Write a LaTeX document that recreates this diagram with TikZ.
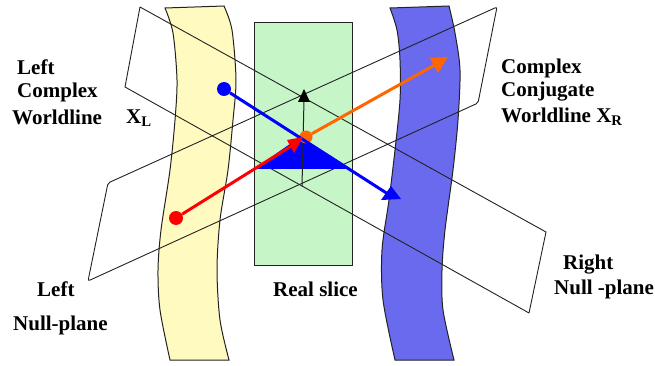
\documentclass[tikz,border=0pt]{standalone}
\usepackage{fontspec}
\setmainfont{Liberation Serif}
\usetikzlibrary{arrows.meta,positioning,calc}
\definecolor{Line}{HTML}{222222}
\definecolor{Pale}{HTML}{FFFBC0}
\definecolor{Slice}{HTML}{C6F5C8}
\definecolor{Conj}{HTML}{6A6AEE}
\definecolor{Orng}{HTML}{FF6600}
\begin{document}
\begin{tikzpicture}[
 x=1pt,y=-1pt,
 w/.style={draw=Line,line width=1pt},
 p/.style={draw=Line,line width=.9pt,line join=round},
 t/.style={anchor=west,inner sep=0pt,font=\fontsize{21}{21}\selectfont\bfseries},
 d/.style={circle,inner sep=0pt,minimum size=14pt,fill=#1},
 a/.style={line width=3pt,draw=#1}
]
\useasboundingbox (0,0) rectangle (655,366);
% worldlines and slice
\draw[w,fill=Pale] plot[smooth,tension=.5] coordinates {(165,8) (173,33) (177,80) (175,120) (170,170) (161,230) (158,270) (160,310) (170,360)} -- plot[smooth,tension=.5] coordinates {(229,360) (220,320) (217,270) (220,220) (228,170) (233,120) (236,80) (232,30) (224,6)} -- cycle;
\draw[w,fill=Conj] plot[smooth,tension=.5] coordinates {(390,8) (397,30) (400,60) (400,100) (395,150) (389,200) (382,250) (383,300) (395,360)} -- plot[smooth,tension=.5] coordinates {(454,360) (443,310) (442,270) (445,230) (453,170) (458,120) (460,70) (455,33) (449,6)} -- cycle;
\node[draw=Line,line width=1pt,fill=Slice,minimum width=98pt,minimum height=242pt,inner sep=0pt] (slice) at (303,144) {};
% null planes
\draw[p,rounded corners=2pt] (108,183)--(497,7)--(478,103)--(88,281)--cycle;
\draw[p] (140,7)--(546,232)--(529,313)--(125,87)--cycle;
% triangle
\coordinate (tl) at (254,169);\coordinate (tr) at (348,169);\coordinate (tt) at (300,137);
\fill[blue] (tl)--(tt)--(tr)--cycle;
% vertical
\coordinate (foot) at (302,186);\coordinate (top) at (304,100);
\draw[Line,line width=1pt] (foot)--(top);
\fill[black] (304,89)--(298,102)--(310,102)--cycle;
% rays
\node[d=red] (rdot) at (176,218) {};
\node[d=blue] (bdot) at (224,89) {};
\node[d=Orng,minimum size=13pt] (odot) at (306,137) {};
\coordinate (rtip) at (296,143);\coordinate (btip) at (388,194);\coordinate (otip) at (440,62);
\draw[a=blue] (bdot)--(btip);
\draw[a=red] (rdot)--(rtip);
\draw[a=Orng] (odot)--(otip);
\fill[red] (287,140)--(303,137)--(294,153)--cycle;
\fill[blue] (391,186)--(381,200)--(401,199)--cycle;
\fill[Orng] (430,58)--(448,57)--(438,73)--cycle;
% labels
\node[t] (ll1) at (17,67) {Left};
\node[t] (ll2) at (17,92) {Complex};
\node[t] (ll3) at (12,117) {Worldline};
\node[t] (xl) at (126,118) {X\textsubscript{L}};
\node[t] (rl1) at (501,68) {Complex};
\node[t] (rl2) at (501,92) {Conjugate};
\node[t] (rl3) at (501,117) {Worldline X\textsubscript{R}};
\node[t] (np1) at (37,289) {Left};
\node[t] (np2) at (13,325) {Null-plane};
\node[t] (real) at (273,289) {Real slice};
\node[t] (np3) at (563,265) {Right};
\node[t] (np4) at (554,289) {Null -plane};
\end{tikzpicture}
\end{document}
